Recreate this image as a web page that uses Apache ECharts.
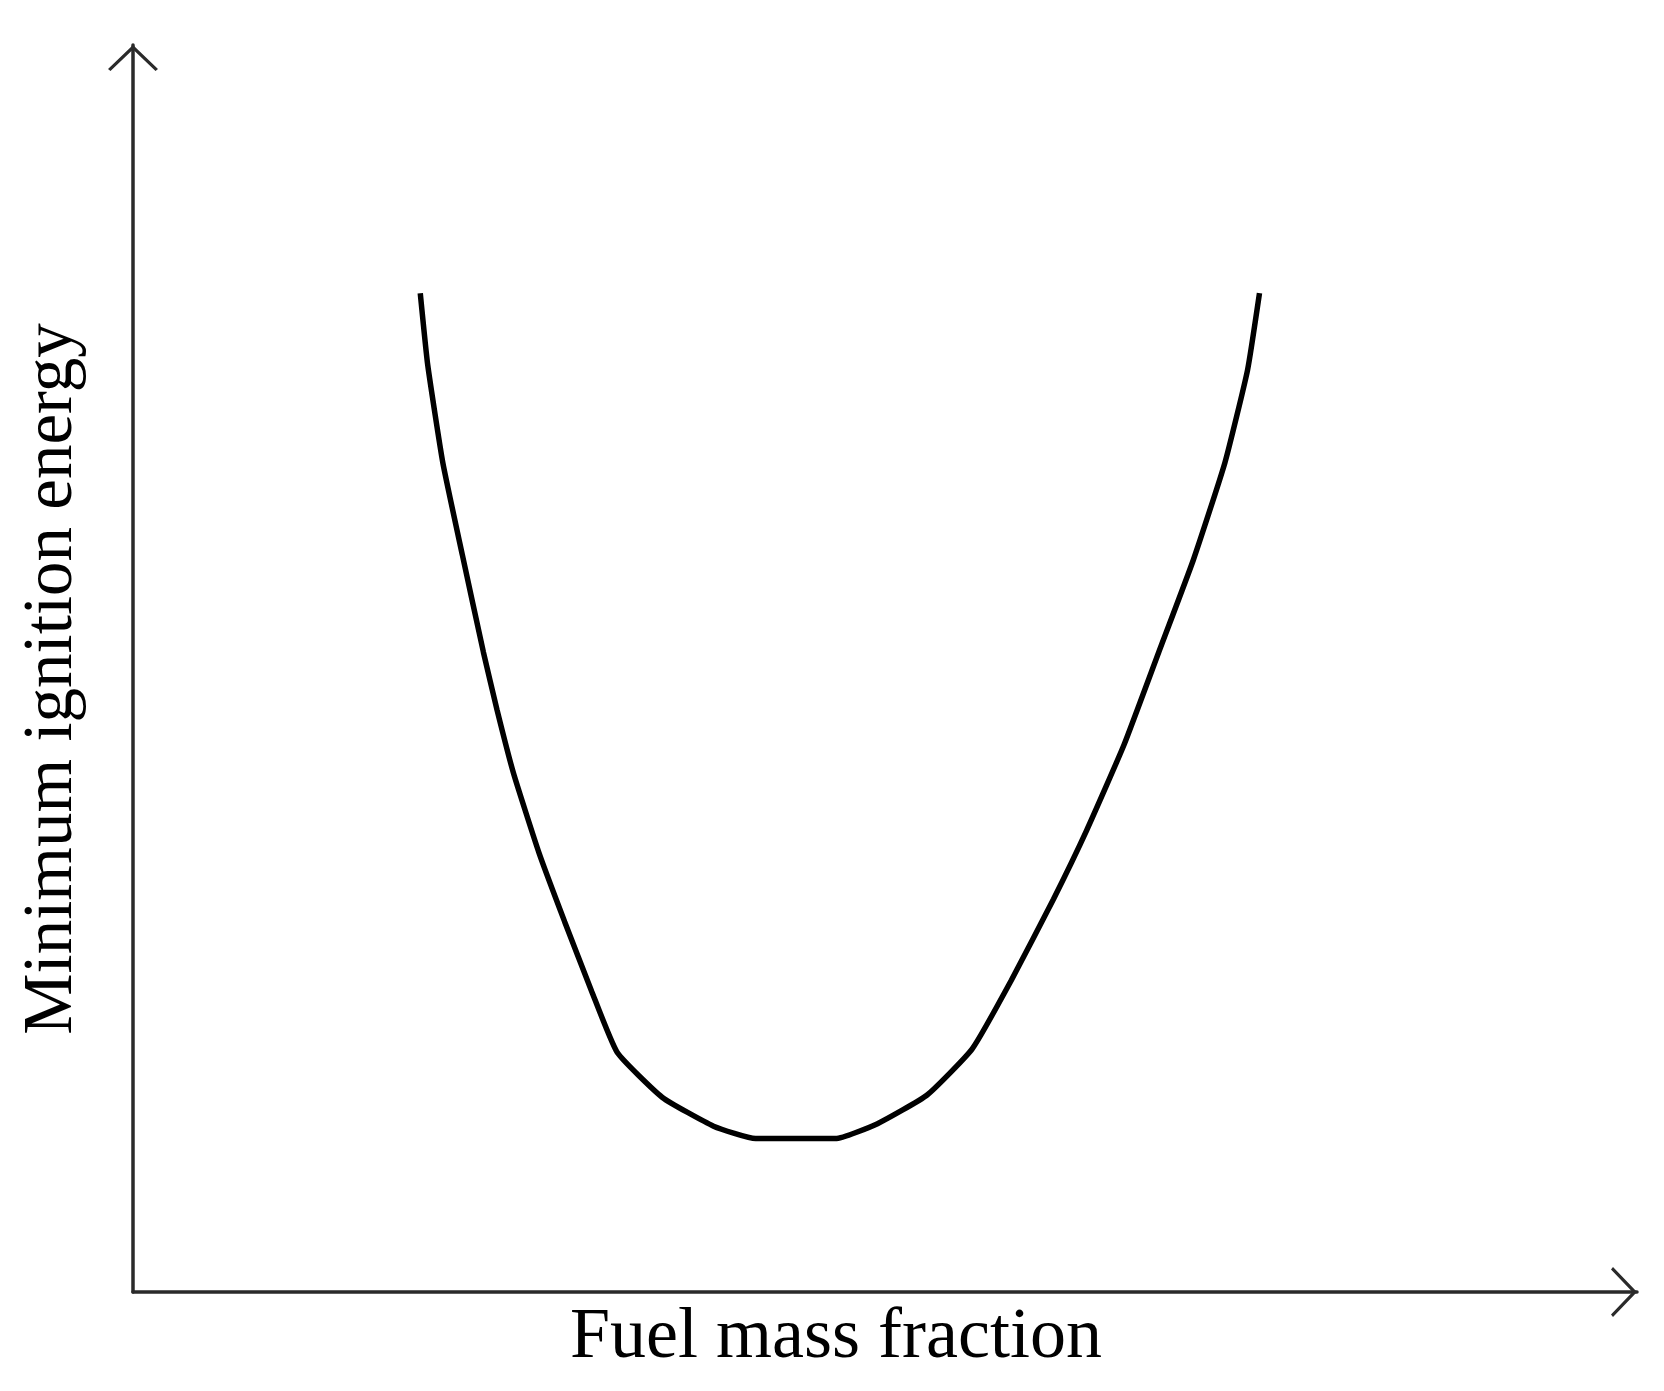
<!DOCTYPE html>
<html>
<head>
<meta charset="utf-8">
<script src="https://cdn.jsdelivr.net/npm/echarts@6/dist/echarts.min.js"></script>
<style>
html,body{margin:0;padding:0;background:#fff;}
#chart{width:1664px;height:1391px;}
</style>
</head>
<body>
<div id="chart"></div>
<script>
// Fuel mass fraction (arbitrary units, 0-100 along the axis)
const fuelFraction = [19.1, 19.6, 20.6, 21.9, 23.3, 24.2, 25.3, 27.0, 28.7, 30.5, 32.2, 35.2, 38.6, 41.4, 46.7, 49.5, 52.8, 55.8, 58.4, 61.2, 63.4, 65.9, 68.2, 70.5, 72.6, 74.1, 74.9];
// Minimum ignition energy (arbitrary units, 0-100 along the axis)
const ignitionEnergy = [80.1, 74.3, 66.5, 59.1, 51.3, 46.7, 41.6, 35.2, 29.7, 24.1, 19.2, 15.6, 13.3, 12.3, 12.3, 13.5, 15.8, 19.5, 25.0, 31.5, 37.0, 43.9, 51.3, 58.7, 66.5, 73.9, 80.1];
const xAxisTitle = 'Fuel mass fraction';
const yAxisTitle = 'Minimum ignition energy';

const chevron = 'path://M0,24 L25,0 L50,24 L47.5,26 L25,4.5 L2.5,26 Z';
const axisCommon = {
  type: 'value', min: 0, max: 100,
  axisLine: { show: true, symbol: ['none', chevron], symbolSize: [50, 26], symbolOffset: [0, -13],
              lineStyle: { color: '#2a2a2a', width: 3.5 } },
  axisTick: { show: false }, axisLabel: { show: false }, splitLine: { show: false }
};

const chart = echarts.init(document.getElementById('chart'));
chart.setOption({
  backgroundColor: '#fff',
  animation: false,
  grid: { left: 133, right: 27, top: 45, bottom: 99 },
  xAxis: Object.assign({}, axisCommon),
  yAxis: Object.assign({}, axisCommon),
  series: [{
    type: 'line',
    data: fuelFraction.map((x, i) => [x, ignitionEnergy[i]]),
    showSymbol: false, symbol: 'none',
    lineStyle: { color: '#000', width: 5.5 },
    smooth: 0.15
  }],
  graphic: [
    { type: 'text', x: 836, y: 1338,
      style: { text: xAxisTitle, font: '72px "Liberation Serif", serif', fill: '#000', align: 'center', verticalAlign: 'middle' } },
    { type: 'text', x: 53, y: 679, rotation: Math.PI / 2,
      style: { text: yAxisTitle, font: '69px "Liberation Serif", serif', fill: '#000', align: 'center', verticalAlign: 'middle' } }
  ]
});
</script>
</body>
</html>
